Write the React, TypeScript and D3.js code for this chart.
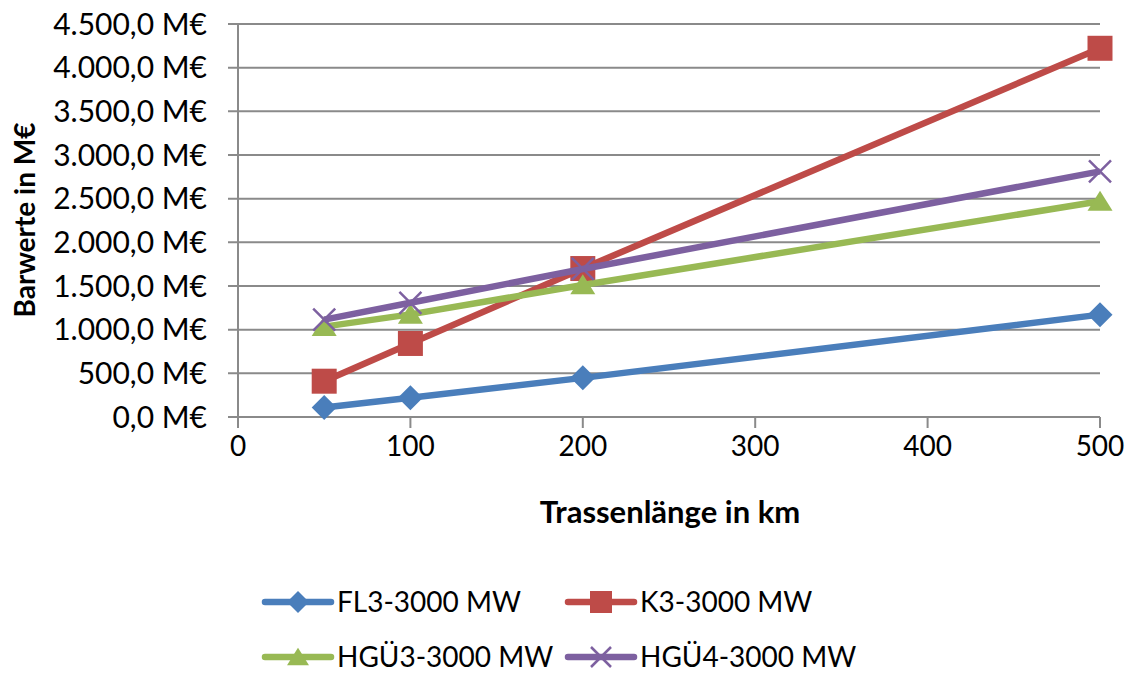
import { useEffect } from "react";
import * as d3 from "d3";

const W = 1130;
const H = 675;

const lengths = [50, 100, 200, 500];
const xTicks = [0, 100, 200, 300, 400, 500];
const yTicks = [0, 500, 1000, 1500, 2000, 2500, 3000, 3500, 4000, 4500];

const fl3 = [108, 220, 448, 1172];
const k3 = [410, 842, 1700, 4222];
const hgu3 = [1035, 1175, 1512, 2470];
const hgu4 = [1115, 1308, 1695, 2812];

const seriesNames = ["FL3-3000 MW", "K3-3000 MW", "HGÜ3-3000 MW", "HGÜ4-3000 MW"];
const seriesColors = ["#4a7ebb", "#be4b48", "#98b954", "#7d60a0"];
const seriesMarkers = ["diamond", "square", "triangle", "x"];

const FONT = "Lato, 'Open Sans', sans-serif";

// plot area
const X0 = 238;
const X1 = 1100;
const Y0 = 417;
const Y1 = 24;

const markerPath = (kind: string, s: number) => {
  const h = s / 2;
  if (kind === "diamond") return `M0,${-h}L${h},0L0,${h}L${-h},0Z`;
  if (kind === "square") return `M${-h},${-h}H${h}V${h}H${-h}Z`;
  if (kind === "triangle") return `M0,${-h * 0.85}L${h},${h * 0.75}L${-h},${h * 0.75}Z`;
  return `M${-h},${-h}L${h},${h}M${h},${-h}L${-h},${h}`;
};

const App = () => {
  useEffect(() => {
    document.body.style.margin = "0";
  }, []);

  const x = d3.scaleLinear().domain([0, 500]).range([X0, X1]);
  const y = d3.scaleLinear().domain([0, 4500]).range([Y0, Y1]);
  const fmt = (v: number) =>
    d3.format(",.1f")(v).replace(/,/g, "#").replace(".", ",").replace(/#/g, ".") + " M€";

  const allSeries = [fl3, k3, hgu3, hgu4];
  const line = d3
    .line<number>()
    .x((_, i) => x(lengths[i]))
    .y((d) => y(d));

  // legend positions
  const legendItems = [
    { lx: 265, ly: 602 },
    { lx: 568, ly: 602 },
    { lx: 265, ly: 657 },
    { lx: 568, ly: 657 },
  ];

  return (
    <svg width={W} height={H} style={{ display: "block", background: "#fff" }}>
      {/* gridlines */}
      {yTicks.map((t) => (
        <line
          key={"g" + t}
          x1={X0 - 10}
          x2={X1}
          y1={y(t)}
          y2={y(t)}
          stroke="#8a8a8a"
          strokeWidth={2}
        />
      ))}
      {/* y axis */}
      <line x1={X0} x2={X0} y1={Y1} y2={Y0} stroke="#8a8a8a" strokeWidth={2} />
      {/* x ticks */}
      {xTicks.map((t) => (
        <line key={"xt" + t} x1={x(t)} x2={x(t)} y1={Y0} y2={Y0 + 11} stroke="#8a8a8a" strokeWidth={2} />
      ))}
      {/* y labels */}
      {yTicks.map((t) => (
        <text
          key={"yl" + t}
          x={207}
          y={y(t)}
          dy="0.35em"
          textAnchor="end"
          fontFamily={FONT}
          fontSize={30}
          fill="#000"
        >
          {fmt(t)}
        </text>
      ))}
      {/* x labels */}
      {xTicks.map((t) => (
        <text
          key={"xl" + t}
          x={x(t)}
          y={446}
          dy="0.35em"
          textAnchor="middle"
          fontFamily={FONT}
          fontSize={28}
          fill="#000"
        >
          {t}
        </text>
      ))}
      <text
        x={670}
        y={512}
        dy="0.35em"
        textAnchor="middle"
        fontFamily={FONT}
        fontSize={31}
        fontWeight="bold"
      >
        Trassenlänge in km
      </text>
      <text
        transform={`translate(25, 220) rotate(-90)`}
        dy="0.35em"
        textAnchor="middle"
        fontFamily={FONT}
        fontSize={28}
        fontWeight="bold"
      >
        Barwerte in M€
      </text>

      {/* series */}
      {allSeries.map((vals, si) => (
        <g key={"s" + si}>
          <path
            d={line(vals) || ""}
            fill="none"
            stroke={seriesColors[si]}
            strokeWidth={6.5}
            strokeLinejoin="round"
          />
          {vals.map((v, i) => (
            <path
              key={i}
              transform={`translate(${x(lengths[i])}, ${y(v)})`}
              d={markerPath(seriesMarkers[si], seriesMarkers[si] === "x" ? 22 : 25)}
              fill={seriesMarkers[si] === "x" ? "none" : seriesColors[si]}
              stroke={seriesColors[si]}
              strokeWidth={seriesMarkers[si] === "x" ? 2.5 : 0}
            />
          ))}
        </g>
      ))}

      {/* legend */}
      {seriesNames.map((name, si) => {
        const { lx, ly } = legendItems[si];
        return (
          <g key={"lg" + si}>
            <line
              x1={lx}
              x2={lx + 66}
              y1={ly}
              y2={ly}
              stroke={seriesColors[si]}
              strokeWidth={6.5}
              strokeLinecap="round"
            />
            <path
              transform={`translate(${lx + 33}, ${ly})`}
              d={markerPath(seriesMarkers[si], seriesMarkers[si] === "x" ? 20 : 22)}
              fill={seriesMarkers[si] === "x" ? "none" : seriesColors[si]}
              stroke={seriesColors[si]}
              strokeWidth={seriesMarkers[si] === "x" ? 2.5 : 0}
            />
            <text
              x={lx + 72}
              y={ly}
              dy="0.35em"
              fontFamily={FONT}
              fontSize={28}
              fill="#000"
            >
              {name}
            </text>
          </g>
        );
      })}
    </svg>
  );
};

export default App;
